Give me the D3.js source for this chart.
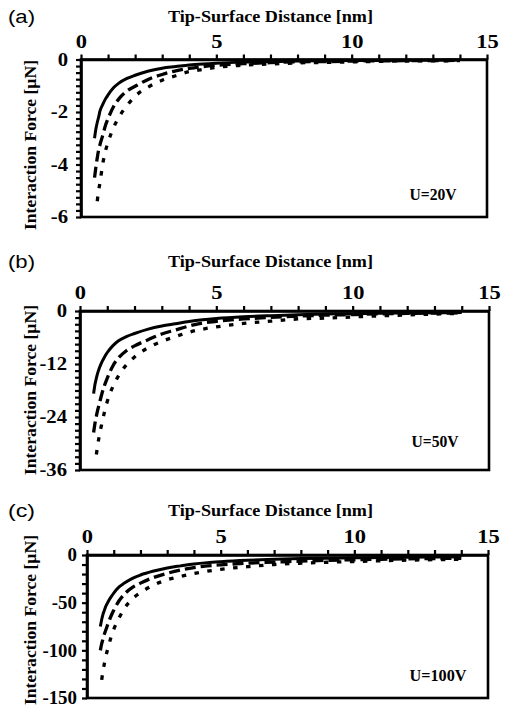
<!DOCTYPE html>
<html><head><meta charset="utf-8">
<script src="https://cdn.jsdelivr.net/npm/d3@7"></script>
<style>
html,body{margin:0;padding:0;background:#fff;}
svg{display:block;}
</style></head>
<body>
<svg id="chart" width="505" height="708"></svg>
<script>
// ---------- DATA ----------
const distance = [0.5,0.55,0.6,0.65,0.7,0.8,0.9,1.0,1.2,1.4,1.7,2.0,2.5,3.0,3.5,4.0,4.5,5,6,7,8,9,10,11,12,13,14];

// Panel (a) U=20V  [µN]
const a_solid  = [-3.0,-2.65,-2.4,-2.2,-1.97,-1.72,-1.51,-1.35,-1.08,-0.9,-0.72,-0.6,-0.44,-0.33,-0.27,-0.21,-0.17,-0.14,-0.1,-0.08,-0.06,-0.05,-0.04,-0.035,-0.03,-0.025,-0.02];
const a_dashed = [-4.5,-4.1,-3.75,-3.45,-3.25,-2.9,-2.52,-2.25,-1.8,-1.5,-1.2,-1.02,-0.75,-0.57,-0.43,-0.34,-0.27,-0.22,-0.16,-0.12,-0.09,-0.08,-0.06,-0.05,-0.045,-0.04,-0.035];
const a_dotted = [null,null,-5.4,-5.0,-4.7,-4.0,-3.5,-3.15,-2.6,-2.2,-1.75,-1.4,-1.04,-0.79,-0.62,-0.46,-0.38,-0.3,-0.22,-0.17,-0.13,-0.11,-0.09,-0.07,-0.06,-0.05,-0.045];

// Panel (b) U=50V
const b_solid  = [-18.7,-16.6,-15.2,-14.0,-13.1,-11.6,-10.4,-9.4,-7.9,-6.8,-5.8,-5.1,-4.1,-3.4,-2.9,-2.4,-2.0,-1.7,-1.3,-1.05,-0.85,-0.7,-0.6,-0.5,-0.45,-0.4,-0.35];
const b_dashed = [-27.5,-25.4,-23.8,-22.4,-21.2,-18.8,-16.8,-15.2,-12.5,-10.7,-9.0,-7.9,-6.5,-5.2,-4.3,-3.4,-2.7,-2.35,-1.8,-1.45,-1.15,-0.95,-0.8,-0.65,-0.55,-0.48,-0.42];
const b_dotted = [null,null,-32.5,-30.3,-28.5,-25.5,-22.8,-20.5,-17.2,-14.8,-12.2,-10.4,-8.3,-6.9,-5.8,-4.8,-4.1,-3.6,-2.8,-2.3,-1.8,-1.6,-1.35,-1.1,-0.9,-0.7,-0.55];

// Panel (c) U=100V
const c_solid  = [-75,-67.6,-62,-58,-54,-48.5,-44,-40,-33.5,-29.5,-24.5,-21,-16.8,-13.6,-11.4,-9.4,-8,-7,-5.5,-4.5,-3.8,-3.3,-2.9,-2.6,-2.3,-2.1,-1.9];
const c_dashed = [-100,-93,-88,-83,-79,-71,-64,-58,-48,-41,-34,-29.5,-23.5,-19.2,-15.8,-13.2,-11.5,-10.3,-8.6,-7.5,-6.4,-5.6,-5,-4.5,-4,-3.7,-3.4];
const c_dotted = [null,-131,-121,-114,-107,-96,-86,-78,-66,-56,-46,-39.5,-31.5,-26,-22.5,-19.5,-17,-15,-12.3,-10,-8.6,-7.6,-6.8,-6,-5.4,-4.9,-4.5];

const xTickLabels = [0,5,10,15];
const panelLetters = ["(a)","(b)","(c)"];
const voltageLabels = ["U=20V","U=50V","U=100V"];
const yTicksA = [0,-2,-4,-6];
const yTicksB = [0,-12,-24,-36];
const yTicksC = [0,-50,-100,-150];
const xTitle = "Tip-Surface Distance [nm]";
const yTitle = "Interaction Force [\u00b5N]";

// ---------- LAYOUT ----------
const panels = [
  {letter:panelLetters[0], volt:voltageLabels[0], series:[a_solid,a_dashed,a_dotted], yTicks:yTicksA, yMinor:0.25,
   left:81, right:487, top:59.5, bottom:217, letterY:23, titleY:22, voltX:433, voltY:200, yTitleY:145, yLabPad:13, yLabScale:1.15},
  {letter:panelLetters[1], volt:voltageLabels[1], series:[b_solid,b_dashed,b_dotted], yTicks:yTicksB, yMinor:1.5,
   left:80, right:489, top:311, bottom:470, letterY:268, titleY:267, voltX:435, voltY:447, yTitleY:390, yLabPad:13, yLabScale:1.15},
  {letter:panelLetters[2], volt:voltageLabels[2], series:[c_solid,c_dashed,c_dotted], yTicks:yTicksC, yMinor:10,
   left:87, right:488, top:555, bottom:698, letterY:517, titleY:516, voltX:438, voltY:681, yTitleY:620, yLabPad:10, yLabScale:1.05}
];

const styles = [
  {dash:null, w:3},
  {dash:"11,5", w:3.3},
  {dash:"4.5,8.5", w:3.3}
];

const svg = d3.select("#chart");
const serif = "'Liberation Serif','Times New Roman',serif";

panels.forEach((p, pi) => {
  const x = d3.scaleLinear().domain([0,15]).range([p.left,p.right]);
  const yMin = p.yTicks[p.yTicks.length-1];
  const y = d3.scaleLinear().domain([yMin,0]).range([p.bottom,p.top]);
  const g = svg.append("g");

  // panel letter
  g.append("text").attr("x",8).attr("y",p.letterY)
    .attr("font-family","'Liberation Sans',Arial,sans-serif").attr("font-size",18)
    .attr("textLength",27).attr("lengthAdjust","spacingAndGlyphs")
    .text(p.letter);
  // x title
  g.append("text").attr("x",168).attr("y",p.titleY)
    .attr("font-family",serif).attr("font-weight","bold").attr("font-size",17.5)
    .attr("textLength",205).attr("lengthAdjust","spacingAndGlyphs")
    .text(xTitle);
  // y title
  g.append("text").attr("transform",`translate(36,${p.yTitleY + 85}) rotate(-90)`)
    .attr("font-family",serif).attr("font-weight","bold").attr("font-size",17)
    .attr("textLength",Math.min(170, p.yTitleY + 85 - 2)).attr("lengthAdjust","spacingAndGlyphs")
    .text(yTitle);

  // curves
  const clipId = "clip"+pi;
  svg.append("clipPath").attr("id",clipId).append("rect")
    .attr("x",p.left).attr("y",p.top-3).attr("width",p.right-p.left).attr("height",p.bottom-p.top+3);
  const line = d3.line().defined(d => d[1] !== null).x(d => x(d[0])).y(d => y(d[1])).curve(d3.curveMonotoneX);
  p.series.forEach((s, si) => {
    const pts = distance.map((d,i) => [d, s[i]]);
    g.append("path").datum(pts).attr("d",line)
      .attr("clip-path",`url(#${clipId})`)
      .attr("fill","none").attr("stroke","#000").attr("stroke-width",styles[si].w)
      .attr("stroke-dasharray",styles[si].dash);
  });

  // box
  g.append("rect").attr("x",p.left).attr("y",p.top).attr("width",p.right-p.left).attr("height",p.bottom-p.top)
    .attr("fill","none").attr("stroke","#000").attr("stroke-width",2.6);

  // x axis (top) minor ticks
  const xAxisMinor = d3.axisTop(x).tickValues(d3.range(0,16,1)).tickSize(5).tickFormat("").tickSizeOuter(0);
  const gxm = g.append("g").attr("transform",`translate(0,${p.top})`).call(xAxisMinor);
  gxm.select(".domain").attr("stroke-width",2.6);
  gxm.selectAll(".tick line").attr("stroke-width",2.2);
  // x labels
  const xAxisLab = d3.axisTop(x).tickValues(xTickLabels).tickSize(0).tickPadding(12).tickSizeOuter(0);
  const gxl = g.append("g").attr("transform",`translate(0,${p.top})`).call(xAxisLab);
  gxl.select(".domain").remove();
  gxl.selectAll("text").attr("font-family",serif).attr("font-weight","bold").attr("font-size",18).attr("fill","#000")
    .attr("transform","scale(1.25,1)");

  // y axis minor ticks
  const yMinorVals = d3.range(0, Math.round(-yMin/p.yMinor)+1).map(k => -k*p.yMinor);
  const yAxisMinor = d3.axisLeft(y).tickValues(yMinorVals).tickSize(5).tickFormat("").tickSizeOuter(0);
  const gym = g.append("g").attr("transform",`translate(${p.left},0)`).call(yAxisMinor);
  gym.select(".domain").attr("stroke-width",2.6);
  gym.selectAll(".tick line").attr("stroke-width",2.2);
  const yAxisLab = d3.axisLeft(y).tickValues(p.yTicks).tickSize(0).tickPadding(0).tickSizeOuter(0)
    .tickFormat(d => d === 0 ? "0" : "-" + Math.abs(d));
  const gyl = g.append("g").attr("transform",`translate(${p.left - p.yLabPad},0)`).call(yAxisLab);
  gyl.select(".domain").remove();
  gyl.selectAll("text").attr("font-family",serif).attr("font-weight","bold").attr("font-size",18).attr("fill","#000")
    .attr("x",0).attr("transform",`scale(${p.yLabScale},1)`);

  // voltage label
  g.append("text").attr("x",p.voltX).attr("y",p.voltY).attr("text-anchor","middle")
    .attr("font-family",serif).attr("font-weight","bold").attr("font-size",17)
    .attr("textLength", p.volt.length > 5 ? 57 : 47).attr("lengthAdjust","spacingAndGlyphs")
    .text(p.volt);
});
</script>
</body></html>
